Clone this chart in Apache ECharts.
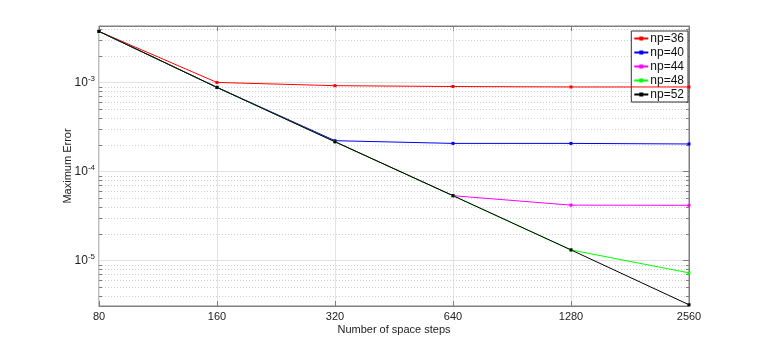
<!DOCTYPE html>
<html>
<head>
<meta charset="utf-8">
<title>Maximum Error</title>
<script src="https://cdn.jsdelivr.net/npm/echarts@6/dist/echarts.min.js"></script>
<style>
  html, body { margin: 0; padding: 0; background: #fff; }
  #main { width: 761px; height: 346px; }
</style>
</head>
<body>
<div id="main"></div>
<script>
// data
var steps = ['80', '160', '320', '640', '1280', '2560'];
var np36 = [3.74e-3, 1.0e-3, 9.2e-4, 9.0e-4, 8.9e-4, 8.9e-4];
var np40 = [3.74e-3, 8.8e-4, 2.22e-4, 2.07e-4, 2.07e-4, 2.04e-4];
var np44 = [3.74e-3, 8.8e-4, 2.16e-4, 5.36e-5, 4.2e-5, 4.18e-5];
var np48 = [3.74e-3, 8.8e-4, 2.16e-4, 5.36e-5, 1.32e-5, 7.3e-6];
var np52 = [3.74e-3, 8.8e-4, 2.16e-4, 5.36e-5, 1.32e-5, 3.2e-6];
var yMin = 3.1e-6, yMax = 4.3e-3;

var font = '"Liberation Sans", Arial, sans-serif';

// minor grid values (2..9 x 10^n) inside the y range
var minors = [];
for (var e = -6; e <= -3; e++) {
  for (var k = 2; k <= 9; k++) {
    var v = k * Math.pow(10, e);
    if (v > yMin && v < yMax) minors.push(v);
  }
}

var myChart = echarts.init(document.getElementById('main'), null, { renderer: 'canvas' });

function line(name, data, color) {
  return {
    name: name,
    type: 'line',
    data: data,
    symbol: 'rect',
    symbolSize: 3,
    showSymbol: true,
    animation: false,
    lineStyle: { color: color, width: 1 },
    itemStyle: { color: color },
    z: 5
  };
}

function supLabel(v) {
  var l = Math.log10(v);
  var e = Math.round(l);
  if (Math.abs(l - e) > 1e-6) return '';
  return '{b|10}{s|' + e + '}';
}

var option = {
  animation: false,
  grid: {
    left: 99, right: 72, top: 26, bottom: 40,
    show: true, borderColor: '#7f7f7f', borderWidth: 1
  },
  legend: {
    data: ['np=36', 'np=40', 'np=44', 'np=48', 'np=52'],
    orient: 'vertical',
    right: 73, top: 31,
    backgroundColor: '#fff',
    borderColor: '#333', borderWidth: 1,
    padding: [1, 4, 1, 2],
    itemGap: 1,
    itemWidth: 14, itemHeight: 5,
    textStyle: { fontFamily: font, fontSize: 12, color: '#111', lineHeight: 13, padding: [0, 0, 0, -3] }
  },
  xAxis: [{
    type: 'category',
    data: steps,
    boundaryGap: false,
    name: 'Number of space steps',
    nameLocation: 'middle',
    nameGap: 18,
    nameMoveOverlap: false,
    nameTextStyle: { fontFamily: font, fontSize: 11, color: '#222' },
    axisLine: { lineStyle: { color: '#7f7f7f' } },
    axisTick: { inside: true, length: 5, lineStyle: { color: '#7f7f7f' } },
    axisLabel: { fontFamily: font, fontSize: 11, color: '#222', margin: 5 },
    splitLine: { show: true, lineStyle: { color: '#e3e3e3', width: 1 } }
  }, {
    type: 'category',
    data: steps,
    boundaryGap: false,
    position: 'top',
    axisLine: { lineStyle: { color: '#7f7f7f' } },
    axisTick: { inside: true, length: 5, lineStyle: { color: '#7f7f7f' } },
    axisLabel: { show: false },
    splitLine: { show: false }
  }],
  yAxis: [{
    type: 'log',
    logBase: 10,
    min: yMin, max: yMax,
    name: 'Maximum Error',
    nameLocation: 'middle',
    nameGap: 26,
    nameMoveOverlap: false,
    nameTextStyle: { fontFamily: font, fontSize: 11, color: '#222' },
    axisLine: { lineStyle: { color: '#7f7f7f' } },
    axisTick: { inside: true, length: 6, lineStyle: { color: '#7f7f7f' } },
    axisLabel: {
      formatter: supLabel, margin: 4,
      rich: {
        b: { fontFamily: font, fontSize: 12, color: '#222' },
        s: { fontFamily: font, fontSize: 8, color: '#222', verticalAlign: 'top', padding: [0, 0, 7, 0] }
      }
    },
    splitLine: { show: true, lineStyle: { color: '#e0e0e0', width: 1 } }
  }, {
    type: 'log',
    logBase: 10,
    min: yMin, max: yMax,
    position: 'right',
    axisLine: { show: true, lineStyle: { color: '#7f7f7f' } },
    axisTick: { show: true, inside: true, length: 6, lineStyle: { color: '#7f7f7f' } },
    axisLabel: { show: false },
    splitLine: { show: false }
  }],
  series: [
    line('np=36', np36, '#ff0000'),
    line('np=40', np40, '#0000ff'),
    line('np=44', np44, '#ff00ff'),
    line('np=48', np48, '#00ff00'),
    line('np=52', np52, '#000000')
  ]
};

myChart.setOption(option);

// minor dotted grid lines and minor ticks on left and right axes
var gl = 99, gr = 761 - 72;
var extra = [];
minors.forEach(function (v) {
  var y = Math.round(myChart.convertToPixel({ yAxisIndex: 0 }, v)) + 0.5;
  extra.push({ type: 'line', z: 1, silent: true,
    shape: { x1: gl, y1: y, x2: gr, y2: y },
    style: { stroke: '#cccccc', lineWidth: 1, lineDash: [1, 2] } });
  extra.push({ type: 'line', z: 3, silent: true,
    shape: { x1: gl, y1: y, x2: gl + 3, y2: y }, style: { stroke: '#7f7f7f', lineWidth: 1 } });
  extra.push({ type: 'line', z: 3, silent: true,
    shape: { x1: gr - 3, y1: y, x2: gr, y2: y }, style: { stroke: '#7f7f7f', lineWidth: 1 } });
});
myChart.setOption({ graphic: extra });
</script>
</body>
</html>
